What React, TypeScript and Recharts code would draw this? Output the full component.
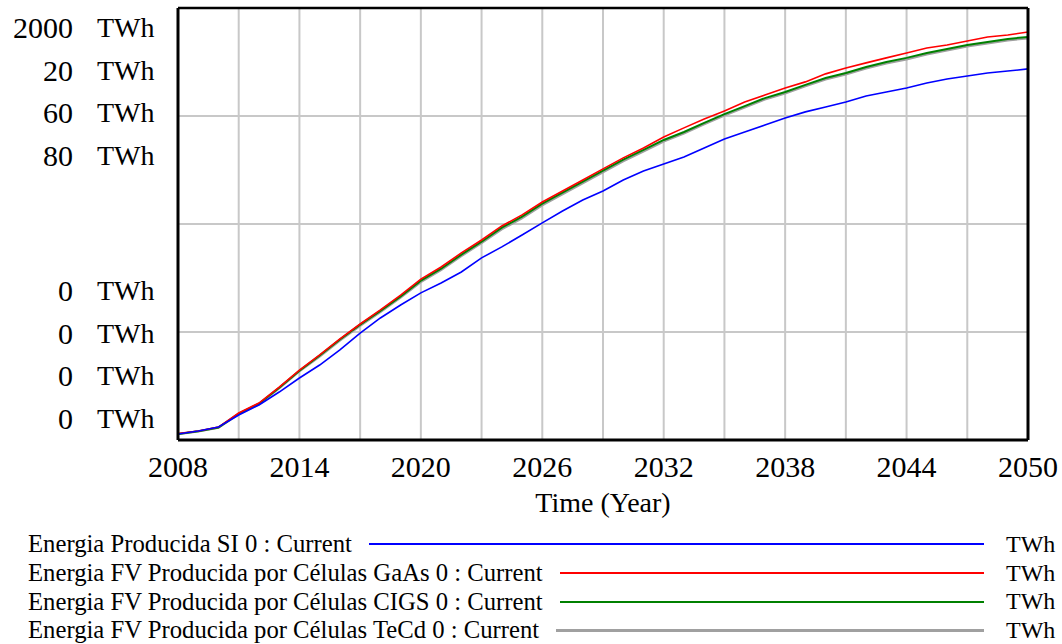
import React from "react";
import { LineChart, Line, XAxis, YAxis, CartesianGrid, ReferenceLine } from "recharts";

const years = [2008, 2009, 2010, 2011, 2012, 2013, 2014, 2015, 2016, 2017, 2018, 2019, 2020, 2021, 2022, 2023, 2024, 2025, 2026, 2027, 2028, 2029, 2030, 2031, 2032, 2033, 2034, 2035, 2036, 2037, 2038, 2039, 2040, 2041, 2042, 2043, 2044, 2045, 2046, 2047, 2048, 2049, 2050];

const siValues = [28, 42, 60, 116, 162, 222, 287, 347, 417, 495, 565, 625, 681, 727, 778, 843, 894, 949, 1005, 1060, 1111, 1153, 1204, 1245, 1278, 1310, 1352, 1394, 1426, 1458, 1491, 1519, 1542, 1565, 1593, 1611, 1630, 1653, 1671, 1685, 1699, 1708, 1718];
const gaasValues = [30, 42, 60, 125, 171, 245, 324, 394, 468, 537, 602, 671, 745, 801, 866, 926, 991, 1042, 1102, 1153, 1204, 1255, 1306, 1352, 1403, 1445, 1486, 1523, 1565, 1597, 1630, 1658, 1695, 1722, 1746, 1769, 1792, 1815, 1829, 1847, 1866, 1875, 1889];
const cigsValues = [28, 40, 58, 122, 168, 242, 321, 391, 465, 534, 598, 665, 738, 793, 858, 918, 983, 1034, 1094, 1145, 1196, 1247, 1298, 1343, 1389, 1426, 1468, 1509, 1546, 1583, 1611, 1644, 1676, 1699, 1727, 1750, 1769, 1792, 1810, 1829, 1843, 1857, 1866];
const tecdValues = [27, 39, 56, 119, 165, 238, 317, 386, 460, 528, 592, 659, 731, 786, 851, 911, 975, 1026, 1086, 1137, 1188, 1239, 1290, 1335, 1382, 1419, 1461, 1502, 1539, 1576, 1604, 1637, 1669, 1692, 1720, 1743, 1762, 1785, 1803, 1822, 1836, 1850, 1859];

const xGridTicks = [2008, 2011, 2014, 2017, 2020, 2023, 2026, 2029, 2032, 2035, 2038, 2041, 2044, 2047, 2050];
const xLabelYears = [2008, 2014, 2020, 2026, 2032, 2038, 2044, 2050];
const yGridTicks = [0, 500, 1000, 1500, 2000];
const yInnerGrid = [500, 1000, 1500];
const topAxisLabels = ["2000", "20", "60", "80"];
const bottomAxisLabels = ["0", "0", "0", "0"];
const unitLabel = "TWh";

const seriesNames = [
  "Energia Producida SI 0 : Current",
  "Energia FV Producida por Células GaAs 0 : Current",
  "Energia FV Producida por Células CIGS 0 : Current",
  "Energia FV Producida por Células TeCd 0 : Current",
];
const seriesKeys = ["si", "gaas", "cigs", "tecd"];
const seriesColors = ["#0000ff", "#ff0000", "#008000", "#a0a0a0"];
const legendWidths = [2, 2, 2, 3];

const data = years.map((y, i) => ({
  year: y,
  si: siValues[i],
  gaas: gaasValues[i],
  cigs: cigsValues[i],
  tecd: tecdValues[i],
}));

const FONT = "'Liberation Serif', 'Times New Roman', serif";
const GRID = "#c8c8c8";

const XTick = (props: any) => {
  const { x, y, payload } = props;
  if (!xLabelYears.includes(payload.value)) return null;
  return (
    <text x={x} y={y} dy={35} textAnchor="middle" fontFamily={FONT} fontSize={30} fill="#000">
      {payload.value}
    </text>
  );
};

const AxisLabelBlock = ({ labels, top }: { labels: string[]; top: number }) => (
  <div style={{ position: "absolute", left: 0, top, width: 170 }}>
    {labels.map((l, i) => (
      <div key={i} style={{ height: 42.5, lineHeight: "42.5px", position: "relative", fontFamily: FONT }}>
        <span style={{ position: "absolute", right: 97, textAlign: "right", fontSize: 30 }}>{l}</span>
        <span style={{ position: "absolute", left: 97, fontSize: 28 }}>{unitLabel}</span>
      </div>
    ))}
  </div>
);

export default function App() {
  return (
    <div style={{ position: "absolute", left: 0, top: 0, width: 1062, height: 644, background: "#fff", fontFamily: FONT, color: "#000", overflow: "hidden" }}>
      <LineChart width={1062} height={530} data={data} margin={{ top: 7, right: 33, left: 177, bottom: 0 }}>
        <CartesianGrid stroke={GRID} strokeWidth={2} verticalValues={xGridTicks} horizontalValues={yGridTicks} />
        <XAxis
          dataKey="year"
          type="number"
          domain={[2008, 2050]}
          ticks={xGridTicks}
          tick={<XTick />}
          tickLine={false}
          tickSize={0}
          height={90}
          interval={0}
          axisLine={{ stroke: "#000", strokeWidth: 3 }}
          label={{ value: "Time (Year)", position: "insideBottom", offset: 18, fontSize: 28, fontFamily: FONT, fill: "#000" }}
        />
        <XAxis xAxisId="top" orientation="top" type="number" domain={[2008, 2050]} height={1} tick={false} tickLine={false} axisLine={{ stroke: "#000", strokeWidth: 2.5 }} />
        <YAxis type="number" domain={[0, 2000]} ticks={yGridTicks} width={1} tick={false} tickLine={false} axisLine={{ stroke: "#000", strokeWidth: 3 }} />
        <YAxis yAxisId="right" orientation="right" type="number" domain={[0, 2000]} width={1} tick={false} tickLine={false} axisLine={{ stroke: "#000", strokeWidth: 3 }} />
        {yInnerGrid.map((v) => (
          <ReferenceLine key={v} y={v} stroke={GRID} strokeWidth={2} ifOverflow="extendDomain" />
        ))}
        <Line type="linear" dataKey="tecd" stroke={seriesColors[3]} strokeWidth={2} dot={false} isAnimationActive={false} />
        <Line type="linear" dataKey="cigs" stroke={seriesColors[2]} strokeWidth={2} dot={false} isAnimationActive={false} />
        <Line type="linear" dataKey="gaas" stroke={seriesColors[1]} strokeWidth={1.6} dot={false} isAnimationActive={false} />
        <Line type="linear" dataKey="si" stroke={seriesColors[0]} strokeWidth={1.6} dot={false} isAnimationActive={false} />
      </LineChart>
      <AxisLabelBlock labels={topAxisLabels} top={7} />
      <AxisLabelBlock labels={bottomAxisLabels} top={270} />
      <div style={{ position: "absolute", left: 28, top: 530, width: 1030 }}>
        {seriesNames.map((n, i) => (
          <div key={seriesKeys[i]} style={{ display: "flex", alignItems: "center", height: 28.7, fontSize: 24.7, fontFamily: FONT }}>
            <span style={{ whiteSpace: "nowrap" }}>{n}</span>
            <div style={{ flex: 1, marginLeft: 17, height: legendWidths[i], background: seriesColors[i] }} />
            <span style={{ marginLeft: 22, width: 52, fontSize: 24 }}>{unitLabel}</span>
          </div>
        ))}
      </div>
    </div>
  );
}
